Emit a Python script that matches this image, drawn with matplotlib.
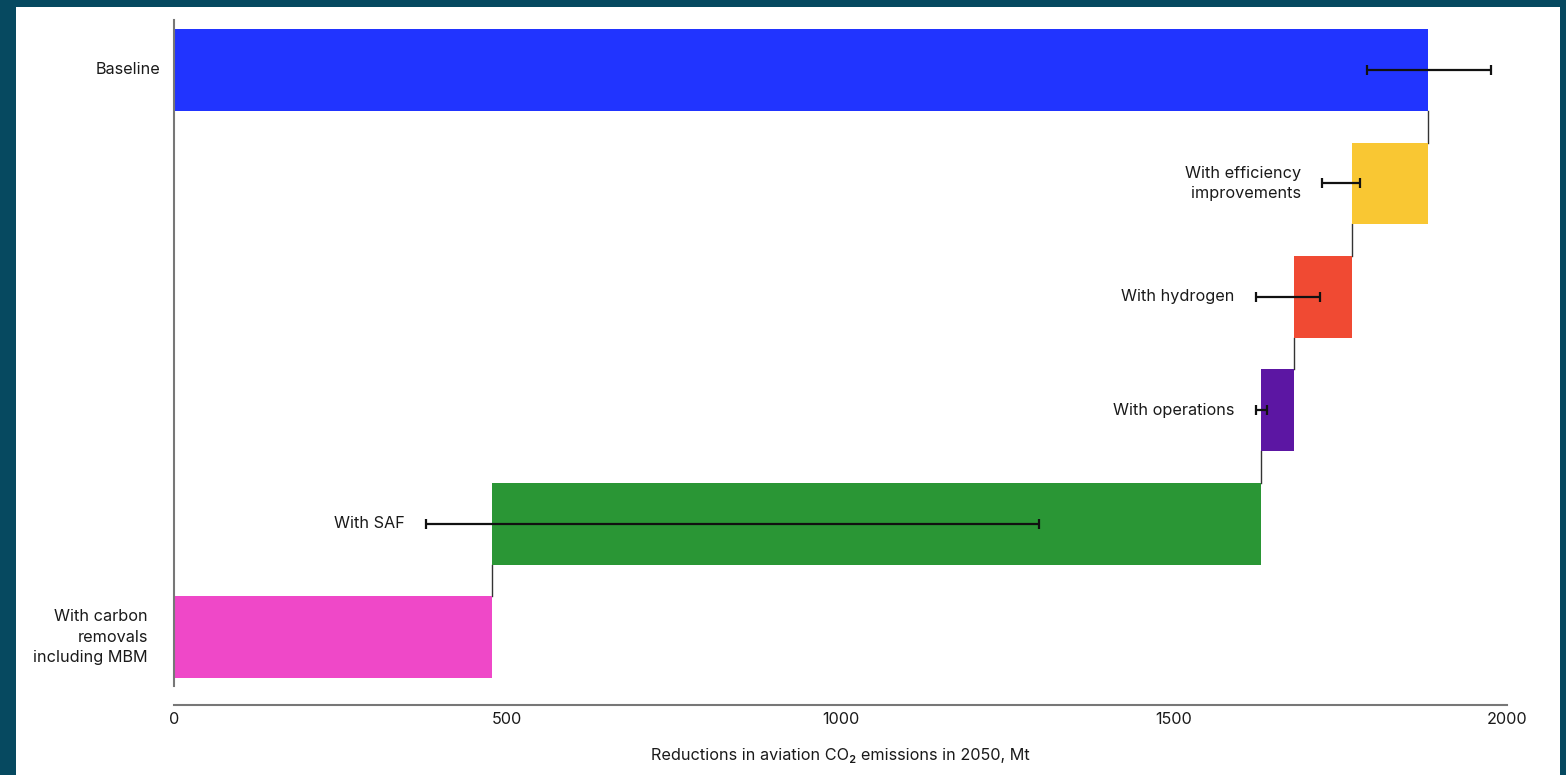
import numpy as np
import matplotlib
matplotlib.use("Agg")
import matplotlib.pyplot as plt
from matplotlib.patches import Rectangle

plt.rcParams['font.family'] = ['Inter', 'DejaVu Sans']

labels = ['Baseline', 'With efficiency\nimprovements', 'With hydrogen',
          'With operations', 'With SAF', 'With carbon\nremovals\nincluding MBM']
starts = [0, 1767, 1680, 1631, 477, 0]
ends = [1881, 1881, 1767, 1680, 1631, 477]
err_lo = [1790, 1722, 1623, 1623, 378, None]
err_hi = [1976, 1779, 1719, 1640, 1298, None]
colors = ['#2134ff', '#f9c733', '#f04a33', '#5c16a3', '#2a9635', '#ef48c8']

W, H = 1566, 775
fig = plt.figure(figsize=(W / 100, H / 100), dpi=100)
fig.patch.set_facecolor('#064960')
fig.patches.append(Rectangle((16 / W, 0), (1560 - 16) / W, (H - 7) / H,
                             transform=fig.transFigure, facecolor='white',
                             edgecolor='none', zorder=-10))

ax = fig.add_axes([174 / W, 1 - 686 / H, (1507 - 174) / W, (686 - 20) / H])
ax.set_facecolor('none')

y = np.arange(len(labels))
h = 0.72
ax.barh(y, np.array(ends) - np.array(starts), left=starts, height=h,
        color=colors, zorder=2)

# connectors between steps
for i in range(len(labels) - 1):
    ax.plot([ends[i + 1], ends[i + 1]], [i + h / 2, i + 1 - h / 2],
            color='#333333', lw=1, zorder=1)

# error bars
for i in range(len(labels)):
    if err_lo[i] is None:
        continue
    mid = (err_lo[i] + err_hi[i]) / 2
    half = (err_hi[i] - err_lo[i]) / 2
    ax.errorbar(mid, i, xerr=half, fmt='none', ecolor='#111111',
                elinewidth=1.6, capsize=3.5, capthick=1.6, zorder=3)

# labels
fs = 11.7
for i, lab in enumerate(labels):
    x0 = starts[i] if err_lo[i] is None else min(starts[i], err_lo[i])
    off = -14 if i == 0 else (-26 if i == len(labels) - 1 else -21)
    ax.annotate(lab, (x0, i), xytext=(off * 0.72, 0), textcoords='offset points',
                ha='right', va='center', fontsize=fs, color='#1a1a1a',
                linespacing=1.45)

ax.set_xlim(0, 2000)
ax.set_ylim(5.43, -0.44)
ax.set_yticks([])
ax.set_xticks([0, 500, 1000, 1500, 2000])
ax.tick_params(axis='x', length=0, pad=5, labelsize=fs, labelcolor='#1a1a1a')
for s in ['top', 'right']:
    ax.spines[s].set_visible(False)
ax.spines['left'].set_color('#777777')
ax.spines['left'].set_linewidth(1.5)
ax.spines['bottom'].set_color('#777777')
ax.spines['bottom'].set_linewidth(1.5)
ax.spines['bottom'].set_position(('outward', 19 * 0.72))
ax.set_xlabel('Reductions in aviation CO\u2082 emissions in 2050, Mt',
              fontsize=fs, color='#1a1a1a', labelpad=15)

fig.savefig('out.png', dpi=100, facecolor=fig.get_facecolor())
